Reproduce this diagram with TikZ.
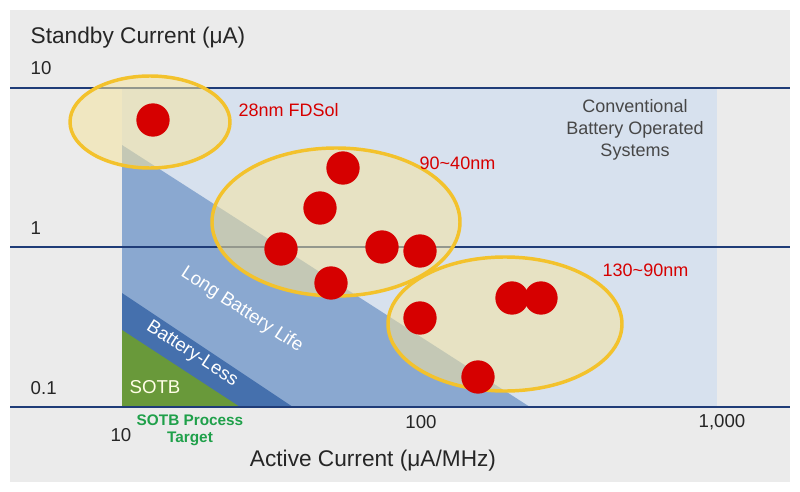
\documentclass[tikz,border=0pt]{standalone}
\usepackage{fontspec}
\setmainfont{Liberation Sans}
\definecolor{bg}{HTML}{EBEBEB}
\definecolor{lblue}{HTML}{D7E1EE}
\definecolor{mblue}{HTML}{8AA8D0}
\definecolor{dblue}{HTML}{4570AD}
\definecolor{sgreen}{HTML}{69993A}
\definecolor{navy}{HTML}{1F3C78}
\definecolor{ygold}{HTML}{F3C22C}
\definecolor{yfill}{HTML}{F5E4A0}
\definecolor{dotred}{HTML}{D60000}
\definecolor{txt}{HTML}{262626}
\definecolor{tgreen}{HTML}{1FA04A}
\tikzset{
  ell/.style={draw=ygold,line width=2.6pt,fill=yfill,fill opacity=0.55,draw opacity=1},
  dot/.style={circle,fill=dotred,inner sep=0pt,minimum size=25},
  axl/.style={text=txt,font=\fontsize{14}{16}\selectfont},
  redl/.style={text=dotred,font=\fontsize{13.5}{16}\selectfont},
  wl/.style={white,font=\fontsize{14}{16}\selectfont,rotate=-33,inner sep=0pt},
}
\begin{document}
\begin{tikzpicture}[x=0.75pt,y=-0.75pt]
\useasboundingbox (0,0) rectangle (800,492);
\fill[white] (0,0) rectangle (800,492);
\fill[bg] (10,10) rectangle (790,482);
\fill[lblue] (122,88) rectangle (717,407);
\fill[mblue] (122,145) -- (530,407) -- (122,407) -- cycle;
\fill[dblue] (122,293) -- (293,407) -- (122,407) -- cycle;
\fill[sgreen] (122,330) -- (240,407) -- (122,407) -- cycle;
\draw[navy,line width=0.8pt] (10,88) -- (790,88);
\draw[navy,line width=0.8pt] (10,247) -- (790,247);
\draw[navy,line width=2.2pt] (10,407) -- (790,407);
\path[ell] (150,122) ellipse [x radius=80,y radius=46];
\path[ell] (336,222) ellipse [x radius=124,y radius=74];
\path[ell] (505,324) ellipse [x radius=117,y radius=67];
\foreach \n/\p in {a/{(153,120)},b/{(343,168)},c/{(320,208)},d/{(281,249)},e/{(382,247)},f/{(420,251)},g/{(331,283)},h/{(420,318)},i/{(512,298)},j/{(541,298)},k/{(478,377)}}
  \node[dot] (d\n) at \p {};
\node[anchor=west,text=txt,font=\fontsize{17}{20}\selectfont] (ylab) at (26,38) {Standby Current (μA)};
\node[axl,anchor=west] (y10) at (26,68) {10};
\node[axl,anchor=west] (y1) at (26,228) {1};
\node[axl,anchor=west] (y01) at (26,388) {0.1};
\node[axl] (x10) at (121,435) {10};
\node[axl] (x100) at (421,422) {100};
\node[axl] (x1000) at (722,422) {1,000};
\node[text=txt,font=\fontsize{17}{20}\selectfont] (xlab) at (373,461) {Active Current (μA/MHz)};
\node[text=tgreen,font=\bfseries\fontsize{11.5}{13}\selectfont,align=center] (sotbt) at (190,430) {SOTB Process\\Target};
\node[redl,anchor=west] (l28) at (234,110) {28nm FDSol};
\node[redl,anchor=west] (l90) at (415,163) {90\textasciitilde40nm};
\node[redl,anchor=west] (l130) at (598,270) {130\textasciitilde90nm};
\node[text=txt!85,font=\fontsize{13.5}{16.5}\selectfont,align=center] (conv) at (635,130) {Conventional\\Battery Operated\\Systems};
\node[wl] (lbl) at (242,310) {Long Battery Life};
\node[wl] (bl) at (192,354) {Battery-Less};
\node[text=white!90!yellow,font=\fontsize{14}{16}\selectfont] (sotb) at (155,387) {SOTB};
\end{tikzpicture}
\end{document}
